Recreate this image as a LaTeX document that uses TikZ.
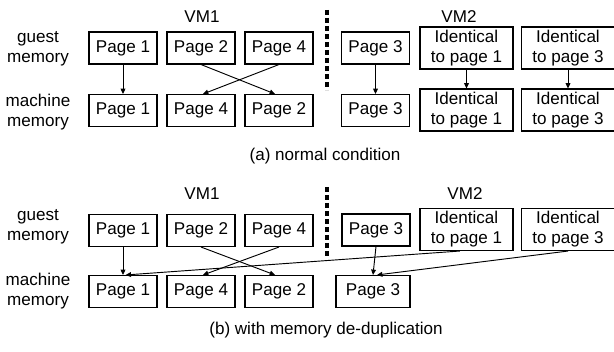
\documentclass[tikz,border=0pt]{standalone}
\usepackage{fontspec}
\setmainfont{Liberation Sans}
\usetikzlibrary{arrows.meta}
\begin{document}
\begin{tikzpicture}[x=0.75pt,y=-0.75pt,
  font=\fontsize{12.8}{15}\selectfont,
  pagebox/.style={draw,line width=0.8pt,minimum width=51pt,minimum height=24pt,inner sep=0pt,align=center},
  idbox/.style={draw,line width=0.8pt,minimum width=69.75pt,minimum height=31.5pt,inner sep=0pt,align=center},
  lbl/.style={align=center,inner sep=0pt},
  link/.style={line width=0.7pt,-{Triangle[length=4pt,width=3.6pt]}},
  divider/.style={line width=2.7pt,dash pattern=on 4pt off 2pt}]
\useasboundingbox (0,0) rectangle (614,352);

% ---------- (a) normal condition ----------
\node[lbl] (ga) at (38,49) {guest\\memory};
\node[lbl] (ma) at (38,112) {machine\\memory};
\node[lbl] (vm1a) at (202,17) {VM1};
\node[lbl] (vm2a) at (459,17) {VM2};
\coordinate (da1) at (327,10);
\coordinate (da2) at (327,90);
\draw[divider] (da1) -- (da2);

\node[pagebox] (gp1) at (123,48) {Page 1};
\node[pagebox] (gp2) at (201,48) {Page 2};
\node[pagebox] (gp4) at (279,48) {Page 4};
\node[pagebox] (gp3) at (375.5,48) {Page 3};
\node[idbox] (gi1) at (466.5,48) {Identical\\to page 1};
\node[idbox] (gi3) at (568,48) {Identical\\to page 3};

\node[pagebox] (mp1) at (123,110.5) {Page 1};
\node[pagebox] (mp4) at (201,110.5) {Page 4};
\node[pagebox] (mp2) at (279,110.5) {Page 2};
\node[pagebox] (mp3) at (375.5,110.5) {Page 3};
\node[idbox] (mi1) at (466.5,110) {Identical\\to page 1};
\node[idbox] (mi3) at (568,110) {Identical\\to page 3};

\draw[link] (gp1.south) -- (mp1.north);
\draw[link] (gp2.south) -- ([xshift=-3pt]mp2.north);
\draw[link] (gp4.south) -- ([xshift=1.5pt]mp4.north);
\draw[link] (gp3.south) -- (mp3.north);
\draw[link] (gi1.south) -- (mi1.north);
\draw[link] (gi3.south) -- (mi3.north);

\node[lbl] (capa) at (325,156) {(a) normal condition};

% ---------- (b) with memory de-duplication ----------
\node[lbl] (gb) at (38,227) {guest\\memory};
\node[lbl] (mb) at (38,291) {machine\\memory};
\node[lbl] (vm1b) at (202,194) {VM1};
\node[lbl] (vm2b) at (465,194) {VM2};
\coordinate (db1) at (327,187);
\coordinate (db2) at (327,257);
\draw[divider] (db1) -- (db2);

\node[pagebox] (bp1) at (123,230.5) {Page 1};
\node[pagebox] (bp2) at (201,230.5) {Page 2};
\node[pagebox] (bp4) at (279,230.5) {Page 4};
\node[pagebox] (bp3) at (376,230) {Page 3};
\node[idbox] (bi1) at (466.5,229.5) {Identical\\to page 1};
\node[idbox] (bi3) at (568,229.5) {Identical\\to page 3};

\node[pagebox] (bm1) at (123,291.5) {Page 1};
\node[pagebox] (bm4) at (201,291.5) {Page 4};
\node[pagebox] (bm2) at (279,291.5) {Page 2};
\node[pagebox,minimum width=55.5pt] (bm3) at (373,291.5) {Page 3};

\draw[link] (bp1.south) -- (bm1.north);
\draw[link] (bp2.south) -- ([xshift=-3pt]bm2.north);
\draw[link] (bp4.south) -- ([xshift=1.5pt]bm4.north);
\draw[link] (bp3.south) -- (bm3.north);
\draw[link] ([xshift=-5pt]bi1.south) -- ([xshift=2pt]bm1.north);
\draw[link] (bi3.south) -- ([xshift=3pt]bm3.north);

\node[lbl] (capb) at (326,330) {(b) with memory de-duplication};
\end{tikzpicture}
\end{document}
